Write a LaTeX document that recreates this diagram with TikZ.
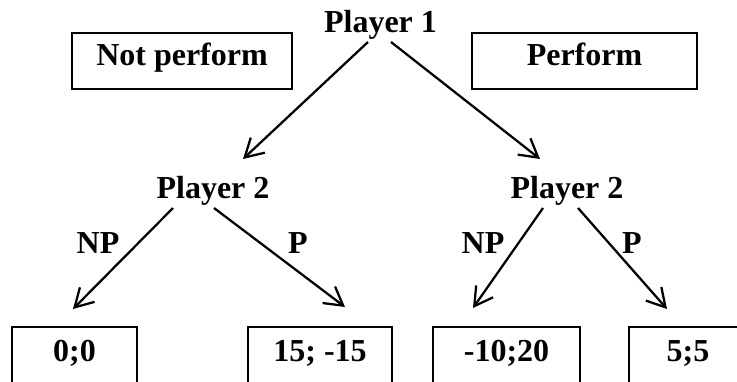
\documentclass[tikz,border=0pt]{standalone}
\usepackage{fontspec}
\setmainfont{Liberation Serif}
\usetikzlibrary{arrows.meta,calc}
\begin{document}
\begin{tikzpicture}[x=0.75pt,y=-0.75pt,
  lbl/.style={font=\fontsize{24}{28}\selectfont\bfseries, inner sep=0pt, anchor=base},
  boxed/.style={draw, line width=1.1pt, font=\fontsize{24}{28}\selectfont\bfseries,
    inner sep=0pt, text height=0.66em, text depth=0pt, anchor=center},
  move/.style={line width=1.7pt, -{Straight Barb[length=13.5pt,width=15.5pt]}}]
\useasboundingbox (0,0) rectangle (737,381);
\clip (0,0) rectangle (737,381);

% decision makers
\node[lbl] (p1)  at (380.5,33) {Player 1};
\node[lbl] (p2l) at (213,198) {Player 2};
\node[lbl] (p2r) at (567,198) {Player 2};

% strategy captions of player 1
\node[boxed, minimum width=165pt, minimum height=42pt] (notperf) at (182,61) {Not perform};
\node[boxed, minimum width=168.75pt, minimum height=42pt] (perf) at (584.5,61) {Perform};

% payoffs
\node[boxed, minimum width=93.75pt, minimum height=45pt] (o1) at (74.5,357) {0;0};
\node[boxed, minimum width=108pt, minimum height=45pt] (o2) at (320,357) {15; -15};
\node[boxed, minimum width=110pt, minimum height=45pt] (o3) at (506.5,357) {-10;20};
\node[boxed, minimum width=88.5pt, minimum height=45pt] (o4) at (688,357) {5;5};

% branch labels
\node[lbl] (npl) at (98,253) {NP};
\node[lbl] (pl)  at (298,253) {P};
\node[lbl] (npr) at (483,253) {NP};
\node[lbl] (pr)  at (632,253) {P};

% moves
\draw[move] ($(p1.base)+(-12.5,9)$) -- ($(p2l.base)+(30,-39)$);
\draw[move] ($(p1.base)+(10.5,9)$)  -- ($(p2r.base)+(-27,-39)$);
\draw[move] ($(p2l.base)+(-40,10)$) -- ($(o1.center)+(-1.5,-48)$);
\draw[move] ($(p2l.base)+(1,10)$)   -- ($(o2.center)+(25,-50)$);
\draw[move] ($(p2r.base)+(-24,10)$) -- ($(o3.center)+(-33.5,-49)$);
\draw[move] ($(p2r.base)+(11,10)$)  -- ($(o4.center)+(-21,-48)$);
\end{tikzpicture}
\end{document}
